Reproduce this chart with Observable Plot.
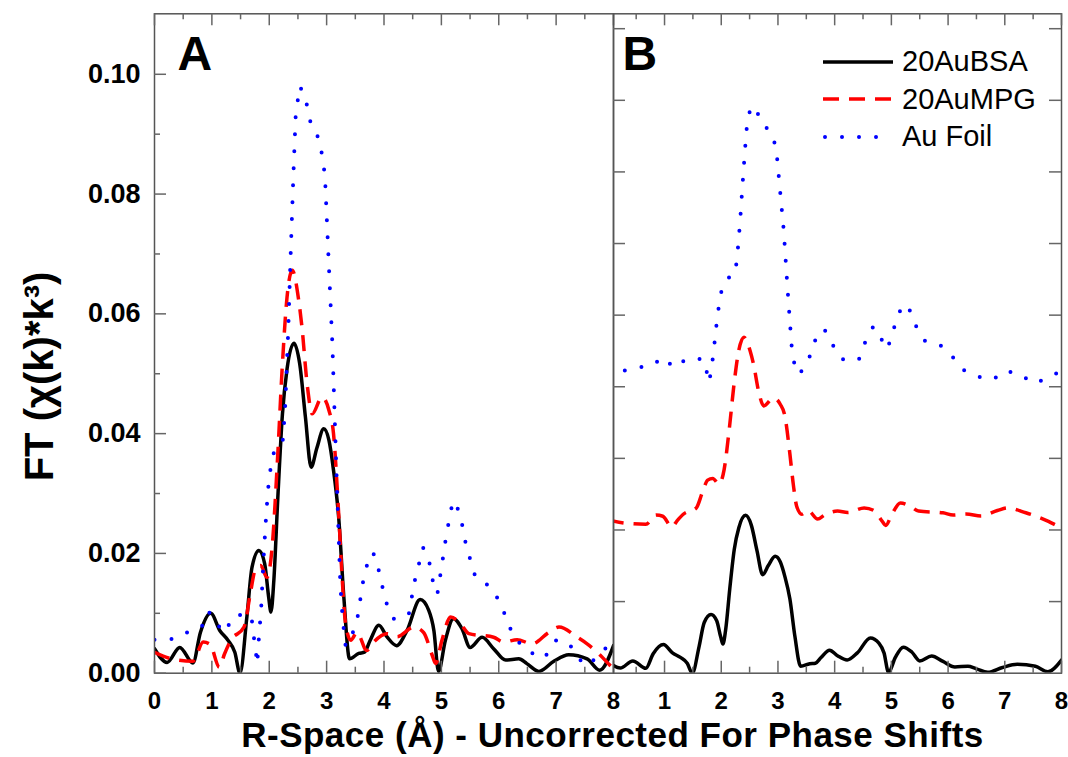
<!DOCTYPE html>
<html>
<head>
<meta charset="utf-8">
<script src="https://cdn.jsdelivr.net/npm/d3@7"></script>
<script src="https://cdn.jsdelivr.net/npm/@observablehq/plot@0.6"></script>
<style>
  html, body { margin: 0; padding: 0; background: #fff; }
  #wrap { position: relative; width: 1068px; height: 757px; overflow: hidden; font-family: "Liberation Sans", Arial, sans-serif; }
  #wrap > .panel { position: absolute; top: 0; }
  #legend { position: absolute; left: 823px; top: 43px; }
  #legend .row { display: flex; align-items: center; height: 37.5px; }
  #legend .row span { margin-left: 9px; font-size: 29px; line-height: 37.5px; color: #000; white-space: nowrap; }
  #xlabel { position: absolute; left: 162.5px; width: 900px; top: 717px; height: 35px; line-height: 35px; font-size: 35px; letter-spacing: 0.5px; font-weight: bold; text-align: center; color: #000; white-space: nowrap; }
</style>
</head>
<body>
<div id="wrap"></div>
<script>
// ---------- data ----------
const seriesNames = ["20AuBSA", "20AuMPG", "Au Foil"];
const panelBOffsets = [0, 0.05, 0.1];

const bsaR  = [0, 0.22, 0.44, 0.67, 0.8, 0.98, 1.14, 1.28, 1.40, 1.49, 1.61, 1.70, 1.82, 1.92, 1.99, 2.03, 2.08, 2.15, 2.23, 2.31, 2.43, 2.53, 2.63, 2.73, 2.83, 2.95, 3.04, 3.12, 3.21, 3.30, 3.40, 3.56, 3.66, 3.76, 3.91, 4.05, 4.22, 4.40, 4.63, 4.78, 4.87, 4.95, 5.07, 5.21, 5.36, 5.50, 5.71, 5.91, 6.12, 6.35, 6.49, 6.70, 6.96, 7.22, 7.54, 7.76, 8.0];
const bsaFT = [0.0041, 0.0018, 0.0043, 0.0017, 0.0068, 0.0100, 0.0071, 0.0055, 0.0035, 0.0000, 0.0094, 0.0177, 0.0205, 0.0183, 0.0127, 0.0102, 0.0155, 0.0294, 0.0433, 0.0508, 0.0551, 0.0517, 0.0428, 0.0344, 0.0376, 0.0408, 0.0389, 0.0339, 0.0260, 0.0127, 0.0024, 0.0033, 0.0035, 0.0055, 0.0080, 0.0061, 0.0046, 0.0071, 0.0123, 0.0105, 0.0071, 0.0003, 0.0055, 0.0091, 0.0074, 0.0043, 0.0060, 0.0041, 0.0022, 0.0024, 0.0016, 0.0003, 0.0020, 0.0031, 0.0024, 0.0005, 0.0046];

const mpgR  = [0, 0.3, 0.67, 0.85, 0.97, 1.13, 1.22, 1.33, 1.56, 1.67, 1.76, 1.85, 1.96, 2.05, 2.14, 2.23, 2.31, 2.40, 2.51, 2.57, 2.66, 2.75, 2.92, 3.04, 3.12, 3.21, 3.27, 3.33, 3.42, 3.53, 3.70, 3.82, 4.05, 4.23, 4.52, 4.69, 4.84, 4.90, 5.01, 5.16, 5.33, 5.48, 5.91, 6.09, 6.32, 6.58, 6.87, 7.05, 7.37, 7.54, 7.77, 7.94, 8.0];
const mpgFT = [0.0035, 0.0024, 0.0020, 0.0052, 0.0048, 0.0010, 0.0032, 0.0055, 0.0077, 0.0133, 0.0174, 0.0180, 0.0160, 0.0210, 0.0350, 0.0517, 0.0628, 0.0673, 0.0625, 0.0578, 0.0483, 0.0433, 0.0461, 0.0439, 0.0400, 0.0266, 0.0160, 0.0083, 0.0055, 0.0068, 0.0038, 0.0052, 0.0066, 0.0061, 0.0077, 0.0068, 0.0030, 0.0016, 0.0055, 0.0094, 0.0083, 0.0066, 0.0060, 0.0052, 0.0056, 0.0049, 0.0068, 0.0077, 0.0060, 0.0049, 0.0030, 0.0013, 0.0008];

const foilR  = [0, 0.32, 0.61, 0.82, 0.945, 1.08, 1.24, 1.35, 1.56, 1.69, 1.72, 1.76, 1.79, 1.82, 1.86, 1.90, 1.95, 2.00, 2.10, 2.24, 2.28, 2.33, 2.37, 2.42, 2.46, 2.53, 2.62, 2.73, 2.88, 2.97, 3.03, 3.10, 3.17, 3.24, 3.28, 3.33, 3.40, 3.54, 3.63, 3.69, 3.81, 3.90, 4.03, 4.17, 4.43, 4.53, 4.68, 4.78, 4.88, 4.93, 5.00, 5.09, 5.20, 5.32, 5.43, 5.60, 5.87, 6.03, 6.15, 6.26, 6.52, 6.79, 7.01, 7.29, 7.48, 7.70, 7.93, 8.0];
const foilFT = [0.0056, 0.0057, 0.0070, 0.0077, 0.0103, 0.0082, 0.0068, 0.0094, 0.0099, 0.0095, 0.0068, 0.0041, 0.0015, 0.0060, 0.0110, 0.0190, 0.0270, 0.0330, 0.0378, 0.0390, 0.0450, 0.0570, 0.0690, 0.0830, 0.0930, 0.0980, 0.0965, 0.0915, 0.0890, 0.0832, 0.0700, 0.0550, 0.0340, 0.0145, 0.0090, 0.0046, 0.0050, 0.0094, 0.0150, 0.0177, 0.0202, 0.0175, 0.0120, 0.0091, 0.0097, 0.0152, 0.0210, 0.0190, 0.0139, 0.0132, 0.0175, 0.0233, 0.0288, 0.0269, 0.0214, 0.0158, 0.0144, 0.0116, 0.0088, 0.0060, 0.0036, 0.0025, 0.0056, 0.0043, 0.0013, 0.0024, 0.0049, 0.0052];

const xTicksA = [0, 1, 2, 3, 4, 5, 6, 7, 8];
const xTicksB = [1, 2, 3, 4, 5, 6, 7, 8];
const xMinorTicks = [0.5, 1.5, 2.5, 3.5, 4.5, 5.5, 6.5, 7.5];
const yTicksA = [0, 0.02, 0.04, 0.06, 0.08, 0.10];
const yTickLabelsA = ["0.00", "0.02", "0.04", "0.06", "0.08", "0.10"];
const yMinorTicksA = [0.01, 0.03, 0.05, 0.07, 0.09];
const yTicksB = [0.025, 0.05, 0.075, 0.1, 0.125, 0.15, 0.175, 0.2, 0.225];
const xAxisLabel = "R-Space (Å) - Uncorrected For Phase Shifts";

// ---------- styles ----------
const lineStyles = [
  {stroke: "#000000", strokeWidth: 3.5, strokeDasharray: null, strokeLinecap: "round", curve: "monotone-x"},
  {stroke: "#ff0000", strokeWidth: 3.5, strokeDasharray: "16,10", strokeLinecap: "butt", curve: "monotone-x"},
  {stroke: "#0000ff", strokeWidth: 4, strokeDasharray: "0,17", strokeLinecap: "round", curve: "linear"}
];
const seriesData = [
  bsaR.map((r, i) => ({r, ft: bsaFT[i]})),
  mpgR.map((r, i) => ({r, ft: mpgFT[i]})),
  foilR.map((r, i) => ({r, ft: foilFT[i]}))
];

const H = 757, mT = 13.3, mB = 84.3;
const innerH = H - mT - mB;
const frameColor = "#555", tickColor = "#666";
const font = "Liberation Sans, Arial, sans-serif";

function curves(offsets) {
  return seriesData.map((data, i) => Plot.line(data, {
    x: "r", y: d => d.ft + offsets[i],
    stroke: lineStyles[i].stroke, strokeWidth: lineStyles[i].strokeWidth,
    strokeDasharray: lineStyles[i].strokeDasharray, strokeLinecap: lineStyles[i].strokeLinecap,
    curve: lineStyles[i].curve, clip: true
  }));
}

// ---------- Panel A ----------
const A_W = 620, A_ML = 154, A_MR = 7, A_innerW = A_W - A_ML - A_MR;
const plotA = Plot.plot({
  width: A_W, height: H,
  marginLeft: A_ML, marginRight: A_MR, marginTop: mT, marginBottom: mB,
  x: {domain: [0, 8], axis: null},
  y: {domain: [0, 0.1101], axis: null},
  style: {background: "transparent", fontFamily: font, color: "#000"},
  marks: [
    ...curves([0, 0, 0]),
    Plot.frame({stroke: frameColor, strokeWidth: 1.5}),
    Plot.tickX(xTicksA, {x: d => d, stroke: tickColor, strokeWidth: 1.5, insetTop: innerH - 12}),
    Plot.tickX(xTicksA, {x: d => d, stroke: tickColor, strokeWidth: 1.5, insetBottom: innerH - 12}),
    Plot.tickX(xMinorTicks, {x: d => d, stroke: tickColor, strokeWidth: 1.5, insetTop: innerH - 6}),
    Plot.tickX(xMinorTicks, {x: d => d, stroke: tickColor, strokeWidth: 1.5, insetBottom: innerH - 6}),
    Plot.tickY(yTicksA, {y: d => d, stroke: tickColor, strokeWidth: 1.5, insetRight: A_innerW - 12}),
    Plot.tickY(yMinorTicksA, {y: d => d, stroke: tickColor, strokeWidth: 1.5, insetRight: A_innerW - 6}),
    Plot.axisX({ticks: xTicksA, tickSize: 0, tickPadding: 19, fontSize: 24, fontWeight: "bold", label: null}),
    Plot.axisY({ticks: yTicksA, tickFormat: d => yTickLabelsA[yTicksA.indexOf(d)], tickSize: 0, tickPadding: 14, fontSize: 27, fontWeight: "bold", label: null}),
    Plot.text(["A"], {frameAnchor: "top-left", textAnchor: "start", lineAnchor: "top", dx: 23, dy: 22.6, fontSize: 48, fontWeight: "bold"}),
    Plot.text(["FT (χ(k)*k³)"], {frameAnchor: "left", textAnchor: "middle", lineAnchor: "middle", rotate: -90, dx: -114, dy: 33, fontSize: 40, fontWeight: "bold", ariaLabel: "y-label"})
  ]
});
plotA.classList.add("panel");
plotA.style.left = "0px";

// ---------- Panel B ----------
const B_left = 600, B_W = 468, B_ML = 13, B_MR = 7, B_innerW = B_W - B_ML - B_MR;
const plotB = Plot.plot({
  width: B_W, height: H,
  marginLeft: B_ML, marginRight: B_MR, marginTop: mT, marginBottom: mB,
  x: {domain: [0.1, 8], axis: null},
  y: {domain: [0, 0.2302], axis: null},
  style: {background: "transparent", fontFamily: font, color: "#000"},
  marks: [
    ...curves(panelBOffsets),
    Plot.frame({stroke: frameColor, strokeWidth: 1.5}),
    Plot.tickX(xTicksB, {x: d => d, stroke: tickColor, strokeWidth: 1.5, insetTop: innerH - 12}),
    Plot.tickX(xTicksB, {x: d => d, stroke: tickColor, strokeWidth: 1.5, insetBottom: innerH - 12}),
    Plot.tickX(xMinorTicks, {x: d => d, stroke: tickColor, strokeWidth: 1.5, insetTop: innerH - 6}),
    Plot.tickX(xMinorTicks, {x: d => d, stroke: tickColor, strokeWidth: 1.5, insetBottom: innerH - 6}),
    Plot.tickY(yTicksB, {y: d => d, stroke: tickColor, strokeWidth: 1.5, insetRight: B_innerW - 12}),
    Plot.tickY(yTicksB, {y: d => d, stroke: tickColor, strokeWidth: 1.5, insetLeft: B_innerW - 12}),
    Plot.axisX({ticks: xTicksB, tickSize: 0, tickPadding: 19, fontSize: 24, fontWeight: "bold", label: null}),
    Plot.text(["B"], {frameAnchor: "top-left", textAnchor: "start", lineAnchor: "top", dx: 9, dy: 22.6, fontSize: 48, fontWeight: "bold"})
  ]
});
plotB.classList.add("panel");
plotB.style.left = B_left + "px";

const wrap = document.getElementById("wrap");
wrap.appendChild(plotA);
wrap.appendChild(plotB);

// y label with superscript and non-bold chi
const yl = d3.select(plotA).select('g[aria-label="y-label"] text');
if (!yl.empty()) {
  yl.text(null).attr("letter-spacing", 2);
  yl.append("tspan").text("FT (");
  yl.append("tspan").attr("font-weight", "normal").text("χ");
  yl.append("tspan").text("(k)*k");
  yl.append("tspan").attr("font-size", 26).attr("dy", -16).text("3");
  yl.append("tspan").attr("dy", 16).text(")");
}

// x-axis title (below both panels)
d3.select(wrap).append("div").attr("id", "xlabel").text(xAxisLabel);

// ---------- legend ----------
const legend = d3.select(wrap).append("div").attr("id", "legend");
seriesNames.forEach((name, i) => {
  const row = legend.append("div").attr("class", "row");
  const s = row.append("svg").attr("width", 70).attr("height", 10);
  s.append("line")
    .attr("x1", i === 2 ? 2 : 0).attr("x2", 70).attr("y1", 5).attr("y2", 5)
    .attr("stroke", lineStyles[i].stroke)
    .attr("stroke-width", lineStyles[i].strokeWidth)
    .attr("stroke-dasharray", lineStyles[i].strokeDasharray)
    .attr("stroke-linecap", i === 2 ? "round" : "butt");
  row.append("span").text(name);
});
</script>
</body>
</html>
